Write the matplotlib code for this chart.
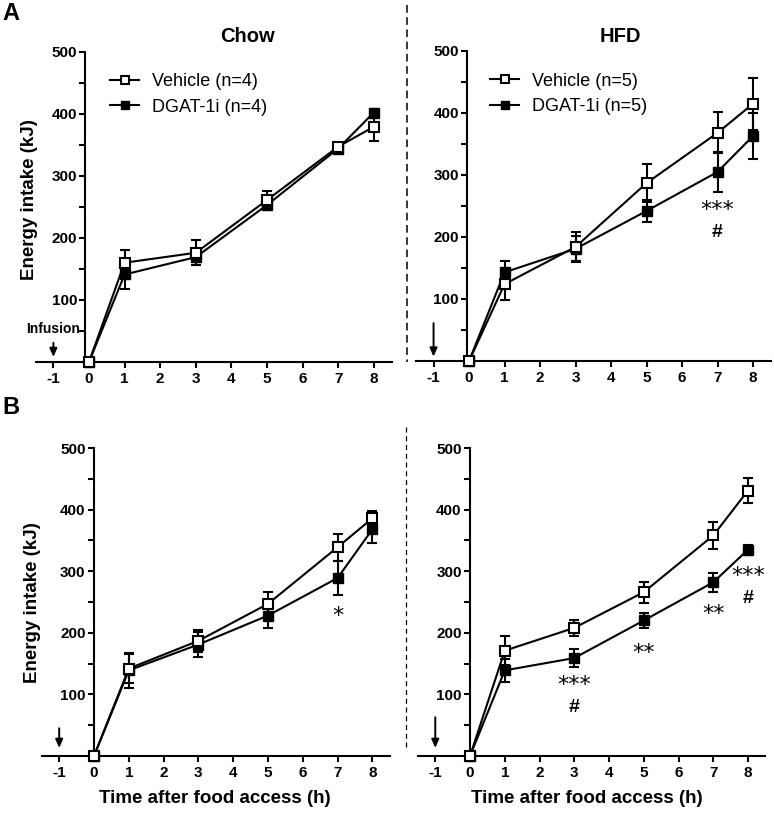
import matplotlib
matplotlib.use('Agg')
import matplotlib.pyplot as plt
from matplotlib.lines import Line2D

plt.rcParams['font.family'] = ['Liberation Sans', 'DejaVu Sans']
plt.rcParams['axes.unicode_minus'] = False

# time points (h after food access)
hours = [0, 1, 3, 5, 7, 8]
xticks = [-1, 0, 1, 2, 3, 4, 5, 6, 7, 8]

# A - Chow
veh_a_chow = [0, 160, 176, 261, 347, 379]
veh_a_chow_err = [0, 20, 20, 14, 5, 23]
dgat_a_chow = [0, 141, 169, 253, 344, 402]
dgat_a_chow_err = [0, 24, 12, 8, 5, 5]

# A - HFD
veh_a_hfd = [0, 124, 184, 287, 368, 415]
veh_a_hfd_err = [0, 25, 24, 30, 33, 42]
dgat_a_hfd = [0, 143, 181, 242, 305, 363]
dgat_a_hfd_err = [0, 18, 20, 18, 32, 37]

# B - Chow
veh_b_chow = [0, 142, 187, 247, 339, 386]
veh_b_chow_err = [0, 24, 18, 19, 22, 11]
dgat_b_chow = [0, 139, 181, 228, 289, 368]
dgat_b_chow_err = [0, 28, 20, 20, 28, 22]

# B - HFD
veh_b_hfd = [0, 171, 208, 266, 358, 431]
veh_b_hfd_err = [0, 24, 13, 17, 22, 20]
dgat_b_hfd = [0, 139, 159, 220, 282, 335]
dgat_b_hfd_err = [0, 19, 14, 12, 15, 8]

# significance marks (x, y, text)
stars_a_hfd = [(7, 244, '***'), (7, 208, '#')]
stars_b_chow = [(7, 227, '*')]
stars_b_hfd = [(3, 116, '***'), (3, 78, '#'), (5, 168, '**'), (7, 230, '**'),
               (8, 293, '***'), (8, 256, '#')]


def draw_panel(ax, veh, veh_err, dgat, dgat_err, stars, yaxis_x, arrow, legend_n=None):
    ax.errorbar(hours, dgat, yerr=dgat_err, fmt='none', ecolor='black', elinewidth=1.5,
                capsize=3.6, capthick=1.5, clip_on=False, zorder=3)
    l2, = ax.plot(hours, dgat, color='black', lw=1.5, marker='s', markersize=7,
                  markerfacecolor='black', markeredgecolor='black', clip_on=False, zorder=4)
    ax.errorbar(hours, veh, yerr=veh_err, fmt='none', ecolor='black', elinewidth=1.5,
                capsize=3.6, capthick=1.5, clip_on=False, zorder=5)
    l1, = ax.plot(hours, veh, color='black', lw=1.5, marker='s', markersize=7,
                  markerfacecolor='white', markeredgecolor='black', markeredgewidth=1.5,
                  clip_on=False, zorder=6)

    ax.set_xlim(-1.5, 8.5)
    ax.set_ylim(0, 500)
    ax.spines['top'].set_visible(False)
    ax.spines['right'].set_visible(False)
    ax.spines['left'].set_position(('data', yaxis_x))
    ax.spines['left'].set_bounds(0, 500)
    ax.spines['left'].set_linewidth(1.5)
    ax.spines['bottom'].set_linewidth(1.5)
    ax.set_xticks(xticks)
    ax.set_xticklabels([str(t) for t in xticks])
    ax.set_yticks([100, 200, 300, 400, 500])
    ax.set_yticks([50, 150, 250, 350, 450], minor=True)
    ax.tick_params(axis='both', which='both', direction='out', length=4, width=1.5)
    ax.tick_params(axis='y', which='major', pad=2)
    ax.tick_params(axis='x', which='major', pad=3.5)
    for lab in ax.get_xticklabels() + ax.get_yticklabels():
        lab.set_fontweight('bold')
        lab.set_fontsize(11)

    # infusion arrow at -1 h
    ax.annotate('', xy=(-1, arrow[1]), xytext=(-1, arrow[0]),
                arrowprops=dict(arrowstyle='-|>,head_length=0.5,head_width=0.22',
                                color='black', lw=1.4, shrinkA=0, shrinkB=0))

    for x, y, s in stars:
        if '*' in s:
            ax.text(x, y, s, ha='center', va='center', fontsize=16,
                    family='DejaVu Sans')
        else:
            ax.text(x, y, s, ha='center', va='center', fontsize=14, fontweight='bold')

    if legend_n is not None:
        ax.legend([l1, l2], ['Vehicle (n=%d)' % legend_n, 'DGAT-1i (n=%d)' % legend_n],
                  loc='upper left', bbox_to_anchor=(0.21, 0.93), frameon=False,
                  fontsize=13, handlelength=1.6, handletextpad=0.7, labelspacing=0.45,
                  borderpad=0, borderaxespad=0, markerscale=0.85)


fig = plt.figure(figsize=(7.74, 8.13), dpi=100)
W, H = 774.0, 813.0

def px_axes(left, right, top, bottom):
    return fig.add_axes([left / W, 1 - bottom / H, (right - left) / W, (bottom - top) / H])

ax1 = px_axes(35.6, 391.6, 51.7, 362)
ax2 = px_axes(415.8, 770.8, 51, 361)
ax3 = px_axes(41.8, 389.8, 448, 756)
ax4 = px_axes(417.9, 765.4, 448, 756)

draw_panel(ax1, veh_a_chow, veh_a_chow_err, dgat_a_chow, dgat_a_chow_err, [], -0.1,
           (31, 8), legend_n=4)
draw_panel(ax2, veh_a_hfd, veh_a_hfd_err, dgat_a_hfd, dgat_a_hfd_err, stars_a_hfd, -0.05,
           (61, 7), legend_n=5)
draw_panel(ax3, veh_b_chow, veh_b_chow_err, dgat_b_chow, dgat_b_chow_err, stars_b_chow, 0,
           (45, 13))
draw_panel(ax4, veh_b_hfd, veh_b_hfd_err, dgat_b_hfd, dgat_b_hfd_err, stars_b_hfd, 0,
           (63, 13))

ax1.text(-1, 53, 'Infusion', ha='center', va='center', fontsize=10, fontweight='bold')

# titles, labels
fig.text(247 / W, 1 - 37 / H, 'Chow', ha='center', va='center', fontsize=14.5, fontweight='bold')
fig.text(620 / W, 1 - 37 / H, 'HFD', ha='center', va='center', fontsize=14.5, fontweight='bold')
fig.text(30 / W, 1 - 200 / H, 'Energy intake (kJ)', rotation=90, ha='center', va='center',
         fontsize=13.5, fontweight='bold')
fig.text(33 / W, 1 - 603 / H, 'Energy intake (kJ)', rotation=90, ha='center', va='center',
         fontsize=13.5, fontweight='bold')
fig.text(215 / W, 1 - 798 / H, 'Time after food access (h)', ha='center', va='center',
         fontsize=13.5, fontweight='bold')
fig.text(587 / W, 1 - 798 / H, 'Time after food access (h)', ha='center', va='center',
         fontsize=13.5, fontweight='bold')
fig.text(2 / W, 1 - 2 / H, 'A', ha='left', va='top', fontsize=17, fontweight='bold')
fig.text(2 / W, 1 - 396 / H, 'B', ha='left', va='top', fontsize=17, fontweight='bold')

# dashed separators between Chow and HFD
fig.add_artist(Line2D([407 / W, 407 / W], [1 - 5 / H, 1 - 362 / H], color='black',
                      lw=1.1, linestyle=(0, (5, 3))))
fig.add_artist(Line2D([406 / W, 406 / W], [1 - 427 / H, 1 - 748 / H], color='black',
                      lw=0.9, linestyle=(0, (4, 3))))

fig.savefig('out.png', dpi=100)
